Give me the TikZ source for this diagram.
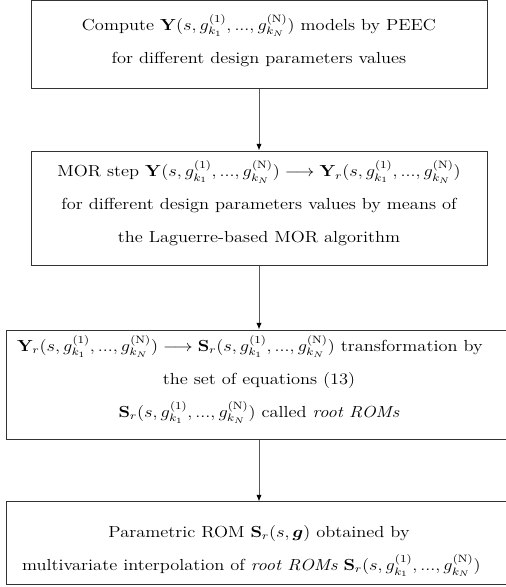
\documentclass[tikz,border=0pt]{standalone}
\usepackage{amsmath}
\usepackage{bm}
\usepackage{graphicx}
\usetikzlibrary{arrows.meta}
\newcommand{\gset}{g^{(1)}_{k_1},...,g^{(\mathrm{N})}_{k_N}}
\newcommand{\boxtext}[2]{\raisebox{#1}[0pt][0pt]{\scalebox{1.15}[1]{\begin{tabular}{@{}c@{}}#2\end{tabular}}}}
\begin{document}
\begin{tikzpicture}[x=1pt,y=1pt,
  stepbox/.style={draw=black!80, line width=0.75pt, inner sep=0pt,
    font=\fontsize{12}{24.75}\selectfont},
  flow/.style={draw=black!65, line width=0.75pt, -{Latex[length=5pt,width=4pt,black]}}]
\useasboundingbox (0,0) rectangle (379.5,-440.25);
\node[stepbox, minimum width=342pt, minimum height=65.5pt] (b1) at (194.25,-33.25)
  {\boxtext{0pt}{Compute $\mathbf{Y}(s,\gset)$ models by PEEC\\for different design parameters values}};
\node[stepbox, minimum width=342pt, minimum height=85.5pt] (b2) at (194.25,-156)
  {\boxtext{0.5pt}{MOR step $\mathbf{Y}(s,\gset)\longrightarrow\mathbf{Y}_r(s,\gset)$\\for different design parameters values by means of\\the Laguerre-based MOR algorithm}};
\node[stepbox, minimum width=379.5pt, minimum height=81.75pt] (b3) at (194.25,-288.4)
  {\boxtext{2pt}{$\mathbf{Y}_r(s,\gset)\longrightarrow\mathbf{S}_r(s,\gset)$ transformation by\hspace*{12pt}\\the set of equations (13)\\$\mathbf{S}_r(s,\gset)$ called \textit{root ROMs}}};
\node[stepbox, minimum width=379.5pt, minimum height=62.25pt] (b4) at (194.25,-407.6)
  {\boxtext{-6pt}{Parametric ROM $\mathbf{S}_r(s,\bm{g})$ obtained by\\multivariate interpolation of \textit{root ROMs} $\mathbf{S}_r(s,\gset)$\hspace*{10pt}}};
\draw[flow] (b1) -- (b2);
\draw[flow] (b2) -- (b3);
\draw[flow] (b3) -- (b4);
\end{tikzpicture}
\end{document}
